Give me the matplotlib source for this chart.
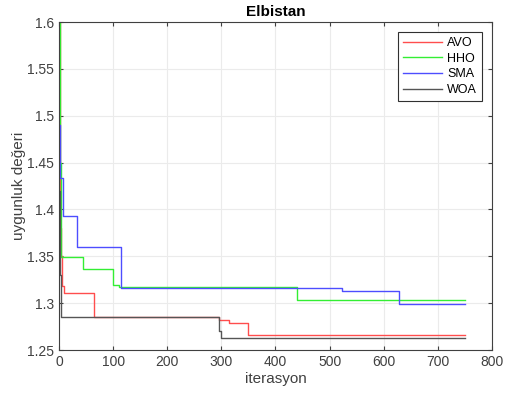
import numpy as np
import matplotlib
matplotlib.use("Agg")
import matplotlib.pyplot as plt

plt.rcParams['font.family'] = ['Liberation Sans', 'DejaVu Sans']

# convergence curves: iteration where the best value changes, and the new value
avo_it = [0, 1, 2, 4, 6, 9, 65, 295, 314, 350, 750]
avo_val = [1.60, 1.50, 1.38, 1.35, 1.318, 1.311, 1.285, 1.282, 1.279, 1.266, 1.266]

hho_it = [0, 2, 3, 45, 100, 110, 440, 750]
hho_val = [1.60, 1.45, 1.349, 1.336, 1.319, 1.317, 1.303, 1.303]

sma_it = [0, 2, 8, 33, 114, 523, 628, 750]
sma_val = [1.49, 1.434, 1.393, 1.360, 1.316, 1.313, 1.299, 1.299]

woa_it = [0, 1, 3, 295, 300, 750]
woa_val = [1.42, 1.33, 1.285, 1.27, 1.263, 1.263]

series = [
    ("AVO", avo_it, avo_val, "#ff4d4d"),
    ("HHO", hho_it, hho_val, "#33ee33"),
    ("SMA", sma_it, sma_val, "#4d4dff"),
    ("WOA", woa_it, woa_val, "#555555"),
]

fig = plt.figure(figsize=(5.05, 3.98), dpi=100)
ax = fig.add_axes([0.117, 0.1206, 0.857, 0.824])

for name, it, val, col in series:
    ax.plot(it, val, drawstyle="steps-post", color=col, lw=1.0, label=name)

ax.set_xlim(0, 800)
ax.set_ylim(1.25, 1.6)
ax.set_xticks(np.arange(0, 801, 100))
ax.set_yticks([1.25, 1.3, 1.35, 1.4, 1.45, 1.5, 1.55, 1.6])
ax.set_yticklabels(["1.25", "1.3", "1.35", "1.4", "1.45", "1.5", "1.55", "1.6"])
ax.grid(True, color="#ebebeb", lw=0.8)
ax.set_axisbelow(True)
ax.tick_params(direction="in", length=3, labelsize=10, colors="#404040",
               top=True, right=True)
for s in ax.spines.values():
    s.set_color("#404040")
    s.set_linewidth(0.8)

ax.set_title("Elbistan", fontsize=11, fontweight="bold", pad=4)
ax.set_xlabel("iterasyon", fontsize=11, color="#404040", labelpad=2)
ax.set_ylabel("uygunluk değeri", fontsize=11, color="#404040", labelpad=1)

leg = ax.legend(loc="upper right", fontsize=9, fancybox=False, framealpha=1,
                edgecolor="#303030", handlelength=3.1, handletextpad=0.4,
                borderpad=0.4, labelspacing=0.3, borderaxespad=0,
                bbox_to_anchor=(0.977, 0.970))
leg.get_frame().set_linewidth(0.8)

fig.savefig("out.png", dpi=100)
